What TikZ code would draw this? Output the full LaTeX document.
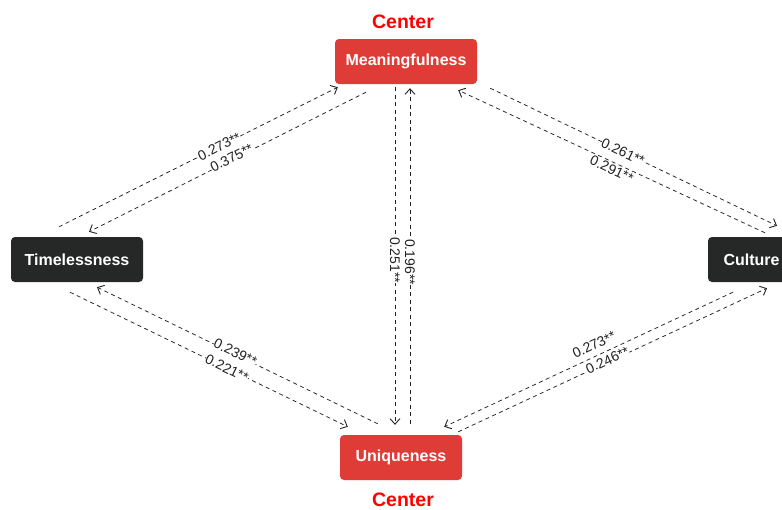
\documentclass[tikz,border=0pt]{standalone}
\usepackage{fontspec}
\setmainfont{Liberation Sans}
\usetikzlibrary{arrows.meta}
\definecolor{centerred}{HTML}{E03C37}
\definecolor{boxdark}{HTML}{262827}
\definecolor{linegray}{HTML}{222222}
\tikzset{
  factor/.style={rounded corners=4pt, inner sep=0pt, minimum height=45pt,
    text=white, font=\fontsize{16}{18}\selectfont\bfseries},
  centerbox/.style={factor, fill=centerred},
  darkbox/.style={factor, fill=boxdark},
  tag/.style={text=red, font=\fontsize{19.5}{21}\selectfont\bfseries, inner sep=0pt},
  link/.style={draw=linegray, line width=0.75pt, dash pattern=on 4pt off 3.5pt,
    -{Straight Barb[length=5.5pt,width=10pt,line width=0.9pt]}},
  coef/.style={fill=white, inner sep=0.2pt, sloped, font=\fontsize{14}{15}\selectfont, text=linegray},
  vcoef/.style={fill=white, inner sep=0.2pt, rotate=-90, font=\fontsize{14}{15}\selectfont, text=linegray}
}
\begin{document}
\begin{tikzpicture}[x=1pt,y=-1pt]
  \clip (0,0) rectangle (782,509);
  \fill[white] (0,0) rectangle (782,509);

  % factor boxes
  \node[centerbox, minimum width=142pt] (M) at (406,61.5) {Meaningfulness};
  \node[darkbox, minimum width=132pt] (T) at (77,259.5) {Timelessness};
  \node[darkbox, minimum width=87pt] (C) at (751.5,259.5) {Culture};
  \node[centerbox, minimum width=122pt] (U) at (401,457.5) {Uniqueness};

  % role tags
  \node[tag] (tM) at (403,21.5) {Center};
  \node[tag] (tU) at (403,499.5) {Center};

  % Timelessness <-> Meaningfulness
  \draw[link] ([shift={(-18,-10)}]T.north) -- node[coef, pos=0.575] {0.273**} ([shift={(3,3)}]M.south west);
  \draw[link] ([shift={(-40,8)}]M.south) -- node[coef, pos=0.482, yshift=2pt] {0.375**} ([shift={(12,-5)}]T.north);

  % Meaningfulness <-> Uniqueness
  \draw[link] ([shift={(-11,3)}]M.south) -- node[vcoef, pos=0.518, xshift=-2pt] {0.251**} ([shift={(-6,-10)}]U.north);
  \draw[link] ([shift={(9,-11)}]U.north) -- node[vcoef, pos=0.482] {0.196**} ([shift={(4,4)}]M.south);

  % Meaningfulness <-> Culture
  \draw[link] ([shift={(13,4)}]M.south east) -- node[coef, pos=0.463] {0.261**} ([shift={(25.5,-11)}]C.north);
  \draw[link] ([shift={(13.5,-4)}]C.north) -- node[coef, pos=0.49, yshift=-7pt] {0.291**} ([shift={(-19,6)}]M.south east);

  % Timelessness <-> Uniqueness
  \draw[link] ([shift={(38,-11)}]U.north west) -- node[coef, pos=0.51, yshift=2pt] {0.239**} ([shift={(20,5)}]T.south);
  \draw[link] ([shift={(-7,10)}]T.south) -- node[coef, pos=0.565] {0.221**} ([shift={(8,-8)}]U.north west);

  % Culture <-> Uniqueness
  \draw[link] ([shift={(-18.5,10)}]C.south) -- node[coef, pos=0.465, yshift=11pt] {0.273**} ([shift={(-18,-8)}]U.north east);
  \draw[link] ([shift={(-4,-3)}]U.north east) -- node[coef, pos=0.486, yshift=2pt] {0.246**} ([shift={(15.5,6)}]C.south);
\end{tikzpicture}
\end{document}
